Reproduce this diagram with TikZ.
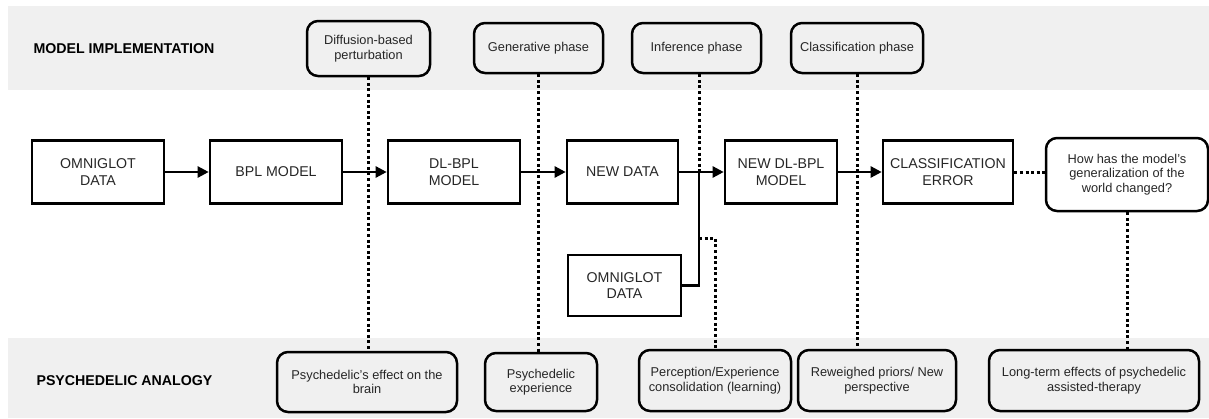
\documentclass[tikz,border=0pt]{standalone}
\usepackage{fontspec}
\setmainfont{Liberation Sans}
\usetikzlibrary{arrows.meta}
\definecolor{bandgray}{RGB}{240,240,240}

\begin{document}
\begin{tikzpicture}[x=1pt,y=-1pt,
	box/.style={rectangle,draw,line width=2.6pt,minimum height=63pt,inner sep=0pt,align=center,font=\fontsize{14.2}{16.5}\selectfont,text=black!85},
	note/.style={rectangle,rounded corners=11pt,draw,line width=2.5pt,inner sep=0pt,align=center,font=\fontsize{12.8}{14.5}\selectfont,text=black!85},
	head/.style={anchor=west,font=\fontsize{14.2}{17}\selectfont\bfseries},
	flow/.style={line width=2.4pt,-{Triangle[length=11pt,width=11pt]}},
	link/.style={line width=3pt,dash pattern=on 3pt off 2.6pt}]
	\useasboundingbox (0,0) rectangle (1209,418);
	% bands
	\fill [bandgray] (8,6) rectangle (1209,90);
	\fill [bandgray] (8,338) rectangle (1209,418);
	\node (impl) at (30,49) [head] {MODEL IMPLEMENTATION};
	\node (anal) at (33,381) [head] {PSYCHEDELIC ANALOGY};
	% model implementation
	\node (diff) at (368.5,48.5) [note,minimum width=123pt,minimum height=55pt] {Diffusion-based\\perturbation};
	\node (gen) at (538.5,48) [note,minimum width=129pt,minimum height=50pt] {Generative phase};
	\node (inf) at (696.5,48) [note,minimum width=129pt,minimum height=50pt] {Inference phase};
	\node (cls) at (857,48) [note,minimum width=132pt,minimum height=50pt] {Classification phase};
	% main flow
	\node (omni) at (98,172) [box,minimum width=132pt] {OMNIGLOT\\DATA};
	\node (bpl) at (276,172) [box,minimum width=132pt] {BPL MODEL};
	\node (dlbpl) at (454,172) [box,minimum width=132pt] {DL-BPL\\MODEL};
	\node (new) at (622.5,172) [box,minimum width=111pt] {NEW DATA};
	\node (newdl) at (781,172) [box,minimum width=112pt] {NEW DL-BPL\\MODEL};
	\node (err) at (948,172) [box,minimum width=130pt] {CLASSIFICATION\\ERROR};
	\node (how) at (1127,174.5) [note,minimum width=162pt,minimum height=73pt] {How has the model’s\\generalization of the\\world changed?};
	\node (omni2) at (624.5,285.5) [box,minimum width=113pt,minimum height=61pt] {OMNIGLOT\\DATA};
	% psychedelic analogy
	\node (effect) at (367,382) [note,minimum width=180pt,minimum height=60pt] {Psychedelic’s effect on the\\brain};
	\node (exper) at (541,382) [note,minimum width=112pt,minimum height=58pt] {Psychedelic\\experience};
	\node (percep) at (715,380.5) [note,minimum width=152pt,minimum height=61pt] {Perception/Experience\\consolidation (learning)};
	\node (rew) at (877,380.5) [note,minimum width=158pt,minimum height=61pt] {Reweighed priors/ New\\perspective};
	\node (long) at (1094,380.5) [note,minimum width=210pt,minimum height=61pt] {Long-term effects of psychedelic\\assisted-therapy};
	\coordinate (join) at (699,172);
	\coordinate (tap) at (699,238);
	% dotted links
	\draw [link] (diff.south) -- (diff.south |- effect.north);
	\draw [link] (gen.south) -- (gen.south |- exper.north);
	\draw [link] (join |- inf.south) -- (join);
	\draw [link] (tap) -| (percep.north);
	\draw [link] (cls.south) -- (cls.south |- rew.north);
	\draw [link] (err.east) -- (err.east -| how.west);
	\draw [link] (how.south) -- (how.south |- long.north);
	% arrows
	\draw [flow] (omni) -- (bpl);
	\draw [flow] (bpl) -- (dlbpl);
	\draw [flow] (dlbpl) -- (new);
	\draw [flow] (new) -- (newdl);
	\draw [flow] (newdl) -- (err);
	\draw [line width=2.4pt] (omni2.east) -| (join);
\end{tikzpicture}
\end{document}
